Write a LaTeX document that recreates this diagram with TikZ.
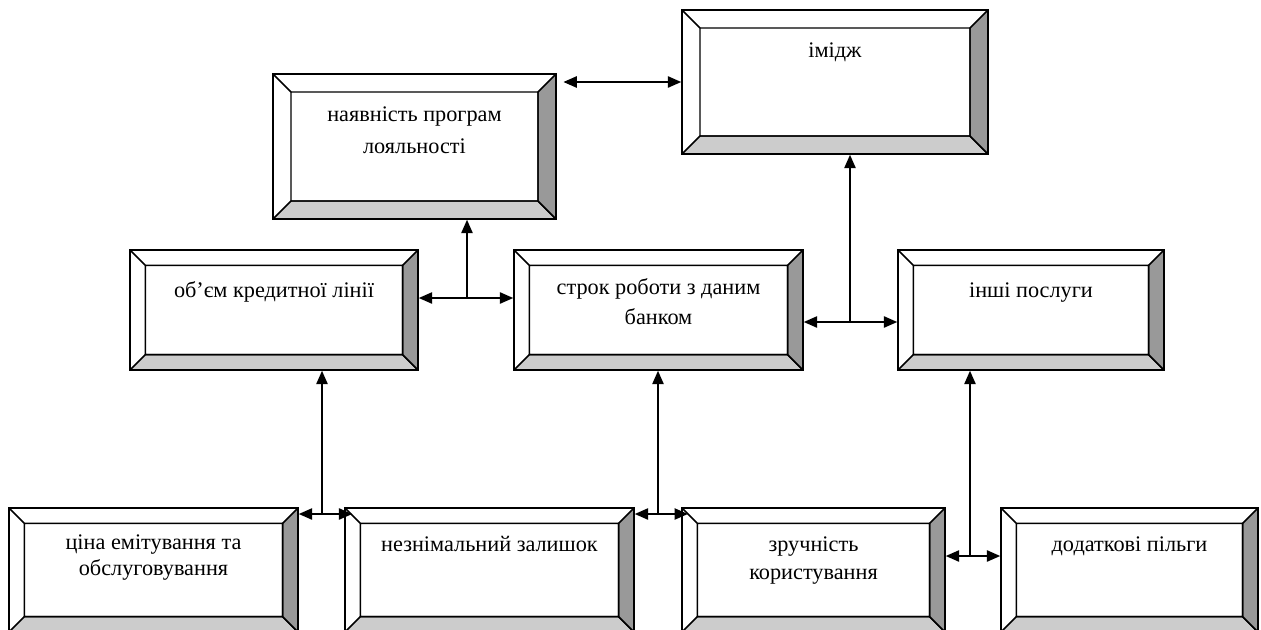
\documentclass[tikz,border=0pt]{standalone}
\usepackage{fontspec}
\setmainfont{Liberation Serif}
\usetikzlibrary{positioning, arrows.meta}
\definecolor{bevdark}{HTML}{999999}
\definecolor{bevlight}{HTML}{CCCCCC}

\begin{document}
\begin{tikzpicture}[
    x=0.75pt, y=-0.75pt,
    bev/.store in=\bevw, bev=11.5pt,
    sz/.style 2 args={minimum width=#1*0.75pt, minimum height=#2*0.75pt},
    bevline/.style={draw, line width=1.1pt, line join=miter},
    box/.style={draw, line width=1.2pt, inner sep=0pt, fill=white,
      path picture={
        \coordinate (bsw) at (path picture bounding box.south west);
        \coordinate (bse) at (path picture bounding box.south east);
        \coordinate (bne) at (path picture bounding box.north east);
        \coordinate (bnw) at (path picture bounding box.north west);
        \coordinate (isw) at ([shift={(\bevw,\bevw)}]bsw);
        \coordinate (ise) at ([shift={(-\bevw,\bevw)}]bse);
        \coordinate (ine) at ([shift={(-\bevw,-\bevw)}]bne);
        \coordinate (inw) at ([shift={(\bevw,-\bevw)}]bnw);
        \draw[bevline, fill=bevlight] (bsw) -- (bse) -- (ise) -- (isw) -- cycle;
        \draw[bevline, fill=bevdark] (bse) -- (bne) -- (ine) -- (ise) -- cycle;
        \draw[bevline] (bnw) -- (inw) (isw) rectangle (ine);
      }},
    % base = last line of the label
    lbl/.style={font=\fontsize{16.7pt}{#1}\selectfont, align=center, inner sep=0pt, anchor=base},
    lbl/.default=23pt,
    >={Triangle[length=10pt, width=8.5pt]}, arr/.style={line width=1.1pt},
  ]
    \useasboundingbox (0,0) rectangle (1261,629);

    % top row
    \node[box, sz={283}{145}, bev=13.5pt] (loyal) at (414.5,146.5) {};
    \node[box, sz={306}{144}, bev=13.5pt] (image) at (835,82) {};
    % middle row
    \node[box, sz={288}{120}] (volume) at (274,310) {};
    \node[box, sz={289}{120}] (term) at (658.5,310) {};
    \node[box, sz={266}{120}] (other) at (1031,310) {};
    % bottom row
    \node[box, sz={289}{124}] (price) at (153.5,570) {};
    \node[box, sz={289}{124}] (balance) at (489.5,570) {};
    \node[box, sz={263}{124}] (usab) at (813.5,570) {};
    \node[box, sz={257}{124}] (bonus) at (1129.5,570) {};

    \node[lbl=24pt] (loyal-t) at ([yshift=-60pt]loyal.north) {наявність програм\\лояльності};
    \node[lbl] (image-t) at ([yshift=-36pt]image.north) {імідж};
    \node[lbl] (volume-t) at ([yshift=-36pt]volume.north) {об’єм кредитної лінії};
    \node[lbl=22.5pt] (term-t) at ([yshift=-56.5pt]term.north) {строк роботи з даним\\банком};
    \node[lbl] (other-t) at ([yshift=-36pt]other.north) {інші послуги};
    \node[lbl=19.5pt] (price-t) at ([yshift=-51.5pt]price.north) {ціна емітування та\\обслуговування};
    \node[lbl] (balance-t) at ([yshift=-33pt]balance.north) {незнімальний залишок};
    \node[lbl=21pt] (usab-t) at ([yshift=-54pt]usab.north) {зручність\\користування};
    \node[lbl] (bonus-t) at ([yshift=-33pt]bonus.north) {додаткові пільги};

    \coordinate (j1) at (467,298);
    \coordinate (j2) at (850,322);
    \coordinate (j3) at (322,514);
    \coordinate (j4) at (658,514);
    \coordinate (j5) at (970,556);

    \draw[arr, <->] ([xshift=5pt]loyal.east |- image.west) -- (image.west);
    \draw[arr, <->] (volume.east |- j1) -- (term.west |- j1);
    \draw[arr, ->] (j1) -- (j1 |- loyal.south);
    \draw[arr, <->] (term.east |- j2) -- (other.west |- j2);
    \draw[arr, ->] (j2) -- (j2 |- image.south);
    \draw[arr, <->] (price.east |- j3) -- ([xshift=6pt]balance.west |- j3);
    \draw[arr, ->] (j3) -- (j3 |- volume.south);
    \draw[arr, <->] (balance.east |- j4) -- ([xshift=5pt]usab.west |- j4);
    \draw[arr, ->] (j4) -- (j4 |- term.south);
    \draw[arr, <->] (usab.east |- j5) -- (bonus.west |- j5);
    \draw[arr, ->] (j5) -- (j5 |- other.south);
  \end{tikzpicture}
\end{document}
